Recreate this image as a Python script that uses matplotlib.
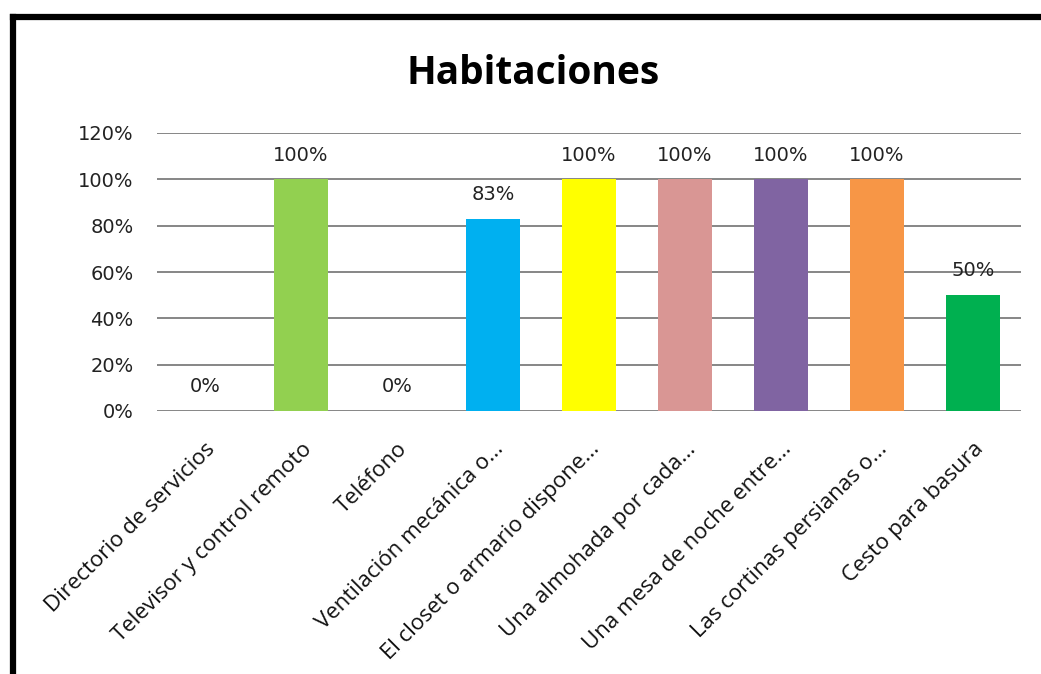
import matplotlib
matplotlib.use("Agg")
import matplotlib.pyplot as plt
from matplotlib.lines import Line2D

# data
categorias = ["Directorio de servicios", "Televisor y control remoto", "Teléfono",
              "Ventilación mecánica o...", "El closet o armario dispone...",
              "Una almohada por cada...", "Una mesa de noche entre...",
              "Las cortinas persianas o...", "Cesto para basura"]
valores = [0.0, 1.0, 0.0, 0.83, 1.0, 1.0, 1.0, 1.0, 0.5]
colores = ["#4F81BD", "#92D050", "#C0504D", "#00B0F0", "#FFFF00",
           "#D99694", "#8064A2", "#F79646", "#00B050"]
yticks = [0, 0.2, 0.4, 0.6, 0.8, 1.0, 1.2]

fig = plt.figure(figsize=(10.41, 6.74), dpi=100)
ax = fig.add_axes([157/1041, 263/674, 864/1041, 278/674])

x = list(range(len(categorias)))
ax.bar(x, valores, width=0.56, color=colores, zorder=3)
ax.set_xlim(-0.5, len(categorias) - 0.5)
ax.set_ylim(0, 1.2)

# gridlines like excel
ax.set_yticks(yticks)
ax.set_yticklabels(["%d%%" % round(v * 100) for v in yticks], fontsize=14,
                   family="DejaVu Sans", color="#222222")
ax.yaxis.grid(True, color="#868686", linewidth=1.4, zorder=0)
ax.tick_params(axis="y", length=0, pad=17)
for s in ax.spines.values():
    s.set_visible(False)

ax.set_xticks(x)
ax.set_xticklabels(categorias, rotation=45, ha="right", va="top", rotation_mode="anchor",
                   fontsize=16, family="Open Sans", color="#111111")
ax.tick_params(axis="x", length=0, pad=20)

# value labels
for xi, v in zip(x, valores):
    ax.annotate("%d%%" % round(v * 100), (xi, v), xytext=(0, 17.5), textcoords="offset points",
                ha="center", va="center", fontsize=14, family="DejaVu Sans", color="#222222")

fig.text(533/1041, 1 - 73/674, "Habitaciones", ha="center", va="center",
         fontsize=28, fontweight="bold", family="Open Sans")

# black frame on left and top
fig.add_artist(Line2D([13/1041, 13/1041], [0, 1 - 17/674], transform=fig.transFigure,
                      color="black", linewidth=4.5, solid_capstyle="projecting"))
fig.add_artist(Line2D([13/1041, 1], [1 - 17/674, 1 - 17/674], transform=fig.transFigure,
                      color="black", linewidth=4.5, solid_capstyle="projecting"))

fig.savefig("out.png", dpi=100)
